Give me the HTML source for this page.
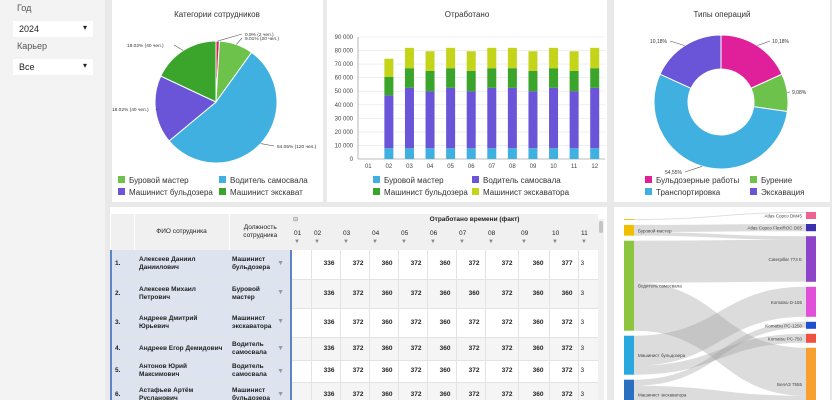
<!DOCTYPE html>
<html><head><meta charset="utf-8">
<style>
*{box-sizing:border-box;margin:0;padding:0}
body{width:832px;height:400px;overflow:hidden;background:#e9e9e9;font-family:"Liberation Sans",sans-serif;position:relative}
.panel{position:absolute;background:#fff}
.sb{position:absolute;left:0;top:0;width:105px;height:400px;background:#f3f3f3}
.lbl{position:absolute;font-size:9px;color:#555}
.sel{position:absolute;left:13px;width:80px;height:16px;background:#fff;font-size:9px;color:#222;padding:3px 6px}
.sel:after{content:"▾";position:absolute;right:6px;top:2px;font-size:8px}
svg text{font-family:"Liberation Sans",sans-serif}
table{border-collapse:collapse;font-size:6.5px;color:#222;line-height:8px}
td{padding:0;overflow:hidden;white-space:normal}
</style></head><body>
<div class="sb">
 <div class="lbl" style="left:17px;top:3px">Год</div>
 <div class="sel" style="top:21px">2024</div>
 <div class="lbl" style="left:17px;top:41px">Карьер</div>
 <div class="sel" style="top:59px">Все</div>
</div>

<div class="panel" style="left:112px;top:0;width:211px;height:202px">
<svg id="pie" width="211" height="202"></svg></div>
<div class="panel" style="left:327px;top:0;width:280px;height:202px">
<svg id="bar" width="280" height="202"></svg></div>
<div class="panel" style="left:614px;top:0;width:216px;height:202px">
<svg id="donut" width="216" height="202"></svg></div>

<div class="panel" style="left:110px;top:207px;width:497px;height:193px;overflow:hidden">
<div id="tbl" style="position:absolute;left:0;top:7px"></div>
<div style="position:absolute;left:488px;top:12px;width:6px;height:181px;background:#f0f0f0"><div style="margin:2px 1px;height:12px;background:#c4c4c4;border-radius:2px"></div></div>
</div>
<div class="panel" style="left:614px;top:207px;width:216px;height:193px;overflow:hidden">
<svg id="sankey" width="216" height="193"></svg></div>

<script>
const NS="http://www.w3.org/2000/svg";
function mk(p,t,a,txt){const e=document.createElementNS(NS,t);for(const k in a)e.setAttribute(k,a[k]);if(txt!=null)e.textContent=txt;p.appendChild(e);return e;}

// ---- Pie data
const pieCats=["Буровой мастер","Водитель самосвала","Машинист бульдозера","Машинист экскават"];
const pieSliceNames=["Прочее","Буровой мастер","Водитель самосвала","Машинист бульдозера","Машинист экскаватора"];
const pieValues=[2,20,120,40,40];
const pieLabels=["0.9% (2 чел.)","9.01% (20 чел.)","54.05% (120 чел.)","18.02% (40 чел.)","18.02% (40 чел.)"];
const pieColors=["#d0245a","#6cc24a","#3fb0e0","#6a55d8","#3aa52a"];

// ---- Bar data
const months=["01","02","03","04","05","06","07","08","09","10","11","12"];
const barSeries=["Буровой мастер","Водитель самосвала","Машинист бульдозера","Машинист экскаватора"];
const sDrill=[0,8000,8000,8000,8000,8000,8000,8000,8000,8000,8000,8000];
const sDriver=[0,39000,44500,42000,44500,42000,44500,44500,42000,44500,42000,44500];
const sBull=[0,13500,14500,15000,14500,15000,14500,14500,15000,14500,15000,14500];
const sExc=[0,13500,15000,14500,15000,14500,15000,15000,14500,15000,14500,15000];
const yTicks=[0,10000,20000,30000,40000,50000,60000,70000,80000,90000];
const barColors=["#3fb0e0","#6a55d8","#3aa52a","#c4d41a"];

// ---- Donut data
const opCats=["Бульдозерные работы","Бурение","Транспортировка","Экскавация"];
const opValues=[18.18,9.09,54.55,18.18];
const opLabels=["10,18%","9,08%","54,55%","10,18%"];
const opColors=["#e0209a","#6cc24a","#3fb0e0","#6a55d8"];

// PIE
(function(){
 const s=document.getElementById('pie');
 mk(s,'text',{x:105,y:17,'font-size':8,'text-anchor':'middle',fill:'#333'},'Категории сотрудников');
 const cx=104,cy=102,r=61,tot=pieValues.reduce((a,b)=>a+b,0);
 const lblPos=[[133,36],[133,40],[165,148],[0,111],[15,47]];
 let a0=0;
 pieValues.forEach((v,i)=>{
  const a1=a0+v/tot*2*Math.PI;
  const p=(a)=>[cx+r*Math.sin(a),cy-r*Math.cos(a)];
  const [x0,y0]=p(a0),[x1,y1]=p(a1);
  const sl=mk(s,'path',{d:`M${cx},${cy}L${x0},${y0}A${r},${r} 0 ${a1-a0>Math.PI?1:0} 1 ${x1},${y1}Z`,fill:pieColors[i],stroke:'#fff','stroke-width':1});
  
  
  const am=(a0+a1)/2,[mx,my]=[cx+r*Math.sin(am),cy-r*Math.cos(am)];
  const lp=lblPos[i];
  const right=mx>cx;
  mk(s,'polyline',{points:`${mx},${my} ${right?lp[0]-3:lp[0]+47},${lp[1]-2}`,fill:'none',stroke:'#555','stroke-width':0.6});
  mk(s,'text',{x:lp[0],y:lp[1],'font-size':4.8,fill:'#333'},pieLabels[i]);
  a0=a1;
 });
 pieCats.forEach((c,i)=>{
  const x=6+(i%2)*101,y=176+Math.floor(i/2)*12;
  const g=mk(s,'g',{});
  
  
  mk(g,'rect',{x:x,y:y,width:7,height:7,fill:pieColors[[1,2,3,4][i]]});
  mk(g,'text',{x:x+11,y:y+7,'font-size':8,fill:'#333'},c);
 });
})();

// BAR
(function(){
 const s=document.getElementById('bar');
 mk(s,'text',{x:140,y:17,'font-size':8,'text-anchor':'middle',fill:'#333'},'Отработано');
 const x0=31,x1=278,yb=159,yt=37,ymax=90000;
 const Y=v=>yb-(v/ymax)*(yb-yt);
 const step=(x1-x0)/months.length,X=i=>x0+step*(i+0.5);
 yTicks.forEach(t=>{mk(s,'line',{x1:x0,x2:x1,y1:Y(t),y2:Y(t),stroke:'#e6e6e6','stroke-width':0.6});
  mk(s,'text',{x:x0-5,y:Y(t)+2,'font-size':6,'text-anchor':'end',fill:'#444'},t===0?'0':(t/1000)+' 000');});
 mk(s,'line',{x1:x0,x2:x0,y1:yt,y2:yb,stroke:'#888','stroke-width':0.6});
 mk(s,'line',{x1:x0,x2:x1,y1:yb,y2:yb,stroke:'#888','stroke-width':0.6});
 const series=[sDrill,sDriver,sBull,sExc];
 months.forEach((m,i)=>{
  let acc=0;
  series.forEach((ser,k)=>{const v=ser[i];if(v>0){const b=mk(s,'rect',{x:X(i)-4.5,y:Y(acc+v),width:9,height:Y(acc)-Y(acc+v),fill:barColors[k]});
   
   }acc+=v;});
  mk(s,'text',{x:X(i),y:168,'font-size':6,'text-anchor':'middle',fill:'#444'},m);
 });
 barSeries.forEach((c,i)=>{
  const x=46+(i%2)*99,y=176+Math.floor(i/2)*12;
  const g=mk(s,'g',{});
  
  
  mk(g,'rect',{x:x,y:y,width:7,height:7,fill:barColors[i]});
  mk(g,'text',{x:x+11,y:y+7,'font-size':8,fill:'#333'},c);
 });
})();

// DONUT
(function(){
 const s=document.getElementById('donut');
 mk(s,'text',{x:108,y:17,'font-size':8,'text-anchor':'middle',fill:'#333'},'Типы операций');
 const cx=107,cy=102,R=67,r=33,tot=opValues.reduce((a,b)=>a+b,0);
 const lp=[[158,43],[178,94],[51,174],[36,43]];
 let a0=0;
 opValues.forEach((v,i)=>{
  const a1=a0+v/tot*2*Math.PI,lg=a1-a0>Math.PI?1:0;
  const P=(rr,a)=>(cx+rr*Math.sin(a))+','+(cy-rr*Math.cos(a));
  const sl=mk(s,'path',{d:`M${P(R,a0)}A${R},${R} 0 ${lg} 1 ${P(R,a1)}L${P(r,a1)}A${r},${r} 0 ${lg} 0 ${P(r,a0)}Z`,fill:opColors[i],stroke:'#fff','stroke-width':1});
  
  
  const am=(a0+a1)/2,mx=cx+R*Math.sin(am),my=cy-R*Math.cos(am),right=mx>cx;
  mk(s,'polyline',{points:`${mx},${my} ${right?lp[i][0]-2:lp[i][0]+20},${lp[i][1]-2}`,fill:'none',stroke:'#555','stroke-width':0.6});
  mk(s,'text',{x:lp[i][0],y:lp[i][1],'font-size':5,fill:'#333'},opLabels[i]);
  a0=a1;
 });
 opCats.forEach((c,i)=>{
  const x=31+(i%2)*105,y=176+Math.floor(i/2)*12;
  const g=mk(s,'g',{});
  
  
  mk(g,'rect',{x:x,y:y,width:7,height:7,fill:opColors[i]});
  mk(g,'text',{x:x+11,y:y+7,'font-size':8,fill:'#333'},c);
 });
})();

// TABLE
const tNames=["Алексеев Даниил Даниилович","Алексеев Михаил Петрович","Андреев Дмитрий Юрьевич","Андреев Егор Демидович","Антонов Юрий Максимович","Астафьев Артём Русланович"];
const tRoles=["Машинист бульдозера","Буровой мастер","Машинист экскаватора","Водитель самосвала","Водитель самосвала","Машинист бульдозера"];
const tVals=[[336,372,360,372,360,372,372,360,377],[336,372,360,372,360,360,372,360,360],[336,372,360,372,360,372,372,360,372],[336,372,360,372,360,372,372,360,372],[336,372,360,372,360,372,372,360,372],[336,372,360,372,360,372,372,360,372]];
(function(){
 const rowH=[29,29,29,23,22,25];
 const cw=[23,95,62,20,29,29,29,29,29,29,33,31,29,20];
 let h='<table style="table-layout:fixed;width:'+cw.reduce((a,b)=>a+b)+'px"><colgroup>'+cw.map(w=>'<col style="width:'+w+'px">').join('')+'</colgroup>';
 h+='<tr style="height:12px;background:#f0f0f0"><td rowspan=2 style="border-right:1px solid #fff"></td><td rowspan=2 style="text-align:center;border-right:1px solid #fff">ФИО сотрудника</td><td rowspan=2 style="text-align:center">Должность<br>сотрудника</td><td style="font-size:6px;color:#777;padding-left:2px">⊟</td><td colspan=10 style="text-align:center;font-weight:bold;padding-left:40px">Отработано времени (факт)</td></tr>';
 h+='<tr style="height:24px;background:#f0f0f0">';
 for(let m=1;m<=11;m++)h+='<td style="padding-left:3px;line-height:8px">'+String(m).padStart(2,'0')+'<br><span style="color:#888;font-size:6px">▼</span></td>';
 h+='</tr>';
 tNames.forEach((n,i)=>{
  h+='<tr style="height:'+rowH[i]+'px;border-bottom:1px solid #e3e3e3;background:'+(i%2?'#f5f5f5':'#fff')+'">';
  h+='<td style="background:#dde3ef;border-left:2px solid #5b86c5;font-weight:bold;padding-left:3px">'+(i+1)+'.</td>';
  h+='<td style="background:#dde3ef;padding:0 3px 0 5px;font-weight:bold">'+n+'</td>';
  h+='<td style="background:#dde3ef;border-right:2px solid #5b86c5;padding-left:3px;font-weight:bold;position:relative">'+tRoles[i].replace(' ','<br>')+'<span style="position:absolute;right:6px;top:35%;color:#999;font-size:7px">▼</span></td>';
  h+='<td style="border-right:1px solid #e3e3e3"></td>';
  tVals[i].forEach(v=>h+='<td style="text-align:right;padding-right:5px;font-weight:bold;border-right:1px solid #e3e3e3">'+v+'</td>');
  h+='<td style="padding-left:2px">3</td></tr>';
 });
 h+='</table>';
 document.getElementById('tbl').innerHTML=h;
})();

// SANKEY
const skLeft=["","Буровой мастер","Водитель самосвала","Машинист бульдозера","Машинист экскаватора"];
const skRight=["Atlas Copco DM45","Atlas Copco FlexiROC D65","Caterpillar 773 E","Komatsu D-155","Komatsu PC-1250","Komatsu PC-750","БелАЗ 7555"];
const skLeftColors=["#f0c000","#f0c000","#8cc63f","#29a8e0","#2a6fc0"];
const skRightColors=["#f06292","#3b2fb0","#8e44c8","#e050d8","#2050d0","#f05040","#f7a030"];
const skSrc=[0,1,1,2,2,3,3,4,4];
const skDst=[0,1,2,2,6,3,5,4,6];
const skVal=[0.3,2.4,1.2,14,16,10,3,2,8];
(function(){
 const s=document.getElementById('sankey');
 const k=3.0,gap=5;
 const lt=skLeft.map((_,i)=>skVal.reduce((a,v,j)=>a+(skSrc[j]===i?v:0),0));
 const rt=skRight.map((_,i)=>skVal.reduce((a,v,j)=>a+(skDst[j]===i?v:0),0));
 const ly=[],ry=[];let y=12;lt.forEach((t,i)=>{ly.push(y);y+=t*k+gap;});
 y=5;rt.forEach((t,i)=>{ry.push(y);y+=Math.max(t*k,7)+gap;});
 const lo=ly.slice(),ro=ry.slice();
 skVal.forEach((v,j)=>{
  const a=skSrc[j],b=skDst[j],h=v*k,y0=lo[a],y1=ro[b];lo[a]+=h;ro[b]+=h;
  const xa=20,xb=192,xm=(xa+xb)/2;
  const p=mk(s,'path',{d:`M${xa},${y0}C${xm},${y0} ${xm},${y1} ${xb},${y1}L${xb},${y1+h}C${xm},${y1+h} ${xm},${y0+h} ${xa},${y0+h}Z`,fill:'#9a9a9a','fill-opacity':0.35});
  
  
 });
 skLeft.forEach((n,i)=>{const r=mk(s,'rect',{x:10,y:ly[i],width:10,height:lt[i]*k,fill:skLeftColors[i]});
  
  
  if(n)mk(s,'text',{x:24,y:ly[i]+lt[i]*k/2+2,'font-size':4.5,fill:'#444'},n);});
 skRight.forEach((n,i)=>{const hh=Math.max(rt[i]*k,7);const r=mk(s,'rect',{x:192,y:ry[i],width:10,height:hh,fill:skRightColors[i]});
  
  
  mk(s,'text',{x:188,y:ry[i]+hh/2+2,'font-size':4.5,'text-anchor':'end',fill:'#444'},n);});
})();
</script>
</body></html>
